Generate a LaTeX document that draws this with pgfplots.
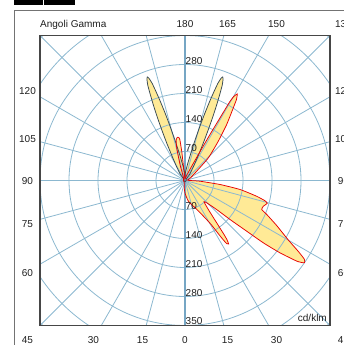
\documentclass[border=0pt]{standalone}
\usepackage{pgfplots}
\pgfplotsset{compat=1.18}
\usepackage{pgfplotstable}
\usepackage{fontspec}
\setmainfont{Liberation Sans}
\definecolor{gridc}{RGB}{140,184,208}
\definecolor{gridv}{RGB}{118,166,196}
\definecolor{fillc}{RGB}{255,234,150}
\definecolor{redc}{RGB}{232,0,0}
\definecolor{darkc}{RGB}{55,72,82}
\definecolor{framec}{RGB}{70,70,70}
\definecolor{txt}{RGB}{30,30,30}

% gamma angle g (0 = down, 90 = right, 180 = up, 270 = left), intensity I in cd/klm
\pgfplotstableread{
g I
0 30
4 38
9 50
14 58
18 65
22 75
26 90
29 108
30.8 125
32 150
32.8 170
33.5 183
34.5 186
35.3 176
35.8 163
36.8 128
38.8 90
41.7 69
44.2 75
47.5 104
49.1 144
50.6 193
51.5 242
52.7 288
54.2 333
55.4 350
56.6 345
58.0 322
59.9 290
62.0 265
64.0 245
67.4 214
69.3 198
71.8 199
74.5 206
75.8 199
77.6 177
80.7 135
83.5 85
87.3 36
90 12
100 6
115 14
128.5 36
134.2 79
139.7 124
143.3 168
146.4 211
147.6 232
148.9 244
149.9 234
150.4 218
150.8 173
151.5 126
152.5 80
155 37
165 10
180 4
186 30
186.4 71
187.2 100
188.2 105
189.6 106
191 104
192.4 100
194.3 81
197.4 40
203 12
220 5
270 4
340 5
350 12
355 20
360 30
}\redtab

\pgfplotstableread{
g I
0 3
90 3
140 5
143.1 19
148.8 40
151.9 67
153.9 99
155.3 133
156.4 168
157.3 199
158.1 227
158.7 248
159.4 261
160 266
160.6 261
161.3 248
161.9 227
162.7 199
163.6 168
164.7 133
166.1 99
167.9 67
171.2 40
176.9 19
180 5
183.1 19
188.8 40
191.9 67
193.9 99
195.3 133
196.4 168
197.3 199
198.1 227
198.7 248
199.4 261
200 266
200.6 261
201.3 248
201.9 227
202.7 199
203.6 168
204.7 133
206.1 99
207.9 67
211.2 40
216.9 19
220 5
270 3
360 3
}\darktab

\begin{document}
\begin{tikzpicture}
\path[use as bounding box] (0,0) rectangle (344pt,-345pt);
\fill[black] (14pt,0) rectangle (42.7pt,-4.7pt);
\fill[black] (44pt,0) rectangle (74.7pt,-4.7pt);
\draw[black!55, line width=0.8pt] (14pt,-346pt) -- (14pt,-10.5pt) -- (346pt,-10.5pt);

\begin{axis}[at={(185pt,-180.5pt)}, anchor=center, scale only axis,
  width=290pt, height=290pt, xmin=-350, xmax=350, ymin=-350, ymax=350,
  xtick=\empty, ytick=\empty, axis on top,
  axis line style={draw=framec, line width=1.1pt}]
\addplot[fill=fillc, draw=none, smooth, tension=0.3] table[x expr={\thisrow{I}*sin(\thisrow{g})}, y expr={-\thisrow{I}*cos(\thisrow{g})}] {\darktab};
\addplot[fill=fillc, draw=none, smooth, tension=0.3] table[x expr={\thisrow{I}*sin(\thisrow{g})}, y expr={-\thisrow{I}*cos(\thisrow{g})}] {\redtab};
\draw[gridc, line width=0.8pt] (axis cs:0,0) circle[radius=29pt];
\draw[gridc, line width=0.8pt] (axis cs:0,0) circle[radius=58pt];
\draw[gridc, line width=0.8pt] (axis cs:0,0) circle[radius=87pt];
\draw[gridc, line width=0.8pt] (axis cs:0,0) circle[radius=116pt];
\draw[gridc, line width=0.8pt] (axis cs:0,0) circle[radius=145pt];
\draw[gridc, line width=0.8pt] (axis cs:0,0) circle[radius=174pt];
\draw[gridc, line width=0.8pt] (axis cs:0,0) circle[radius=203pt];
\pgfplotsinvokeforeach{15,30,45,60,75,90,105,120,135,150,165}{
  \draw[gridc, line width=0.8pt] (axis cs:{-700*sin(#1)},{700*cos(#1)}) -- (axis cs:{700*sin(#1)},{-700*cos(#1)});
}
\draw[gridv, line width=1.7pt] (axis cs:0,-400) -- (axis cs:0,400);
\addplot[draw=darkc, line width=0.75pt, smooth, tension=0.3] table[x expr={\thisrow{I}*sin(\thisrow{g})}, y expr={-\thisrow{I}*cos(\thisrow{g})}] {\darktab};
\addplot[draw=redc, line width=0.75pt, smooth, tension=0.3] table[x expr={\thisrow{I}*sin(\thisrow{g})}, y expr={-\thisrow{I}*cos(\thisrow{g})}] {\redtab};
\end{axis}

\begin{scope}[font=\fontsize{10}{12}\selectfont, text=txt, inner sep=0pt]
\node[anchor=base west] at (40pt,-28pt) {Angoli Gamma};
\node[anchor=base] at (185pt,-28pt) {180};
\node[anchor=base] at (227.5pt,-28pt) {165};
\node[anchor=base] at (276.5pt,-28pt) {150};
\node[anchor=base] at (343.5pt,-28pt) {135};
% left side
\node[anchor=base] at (27.5pt,-94.3pt) {120};
\node[anchor=base] at (27.5pt,-142.6pt) {105};
\node[anchor=base] at (27.5pt,-184.6pt) {90};
\node[anchor=base] at (27.5pt,-227.2pt) {75};
\node[anchor=base] at (27.5pt,-276pt) {60};
% right side
\node[anchor=base] at (343.5pt,-94.3pt) {120};
\node[anchor=base] at (343.5pt,-142.6pt) {105};
\node[anchor=base] at (343.5pt,-184.6pt) {90};
\node[anchor=base] at (343.5pt,-227.2pt) {75};
\node[anchor=base] at (343.5pt,-276pt) {60};
% bottom
\node[anchor=base] at (27.5pt,-343.6pt) {45};
\node[anchor=base] at (93.5pt,-343.6pt) {30};
\node[anchor=base] at (142.5pt,-343.6pt) {15};
\node[anchor=base] at (185pt,-343.6pt) {0};
\node[anchor=base] at (227.5pt,-343.6pt) {15};
\node[anchor=base] at (276.5pt,-343.6pt) {30};
\node[anchor=base] at (343.5pt,-343.6pt) {45};
% radial scale
\node[anchor=base west] at (185.5pt,-64.5pt) {280};
\node[anchor=base west] at (185.5pt,-93.5pt) {210};
\node[anchor=base west] at (185.5pt,-122.5pt) {140};
\node[anchor=base west] at (185.5pt,-151.5pt) {70};
\node[anchor=base west] at (185.5pt,-209.5pt) {70};
\node[anchor=base west] at (185.5pt,-238.5pt) {140};
\node[anchor=base west] at (185.5pt,-267.5pt) {210};
\node[anchor=base west] at (185.5pt,-296.5pt) {280};
\node[anchor=base west] at (185.5pt,-324.5pt) {350};
\node[anchor=base east] at (327pt,-321.5pt) {cd/klm};
\end{scope}
\end{tikzpicture}
\end{document}
